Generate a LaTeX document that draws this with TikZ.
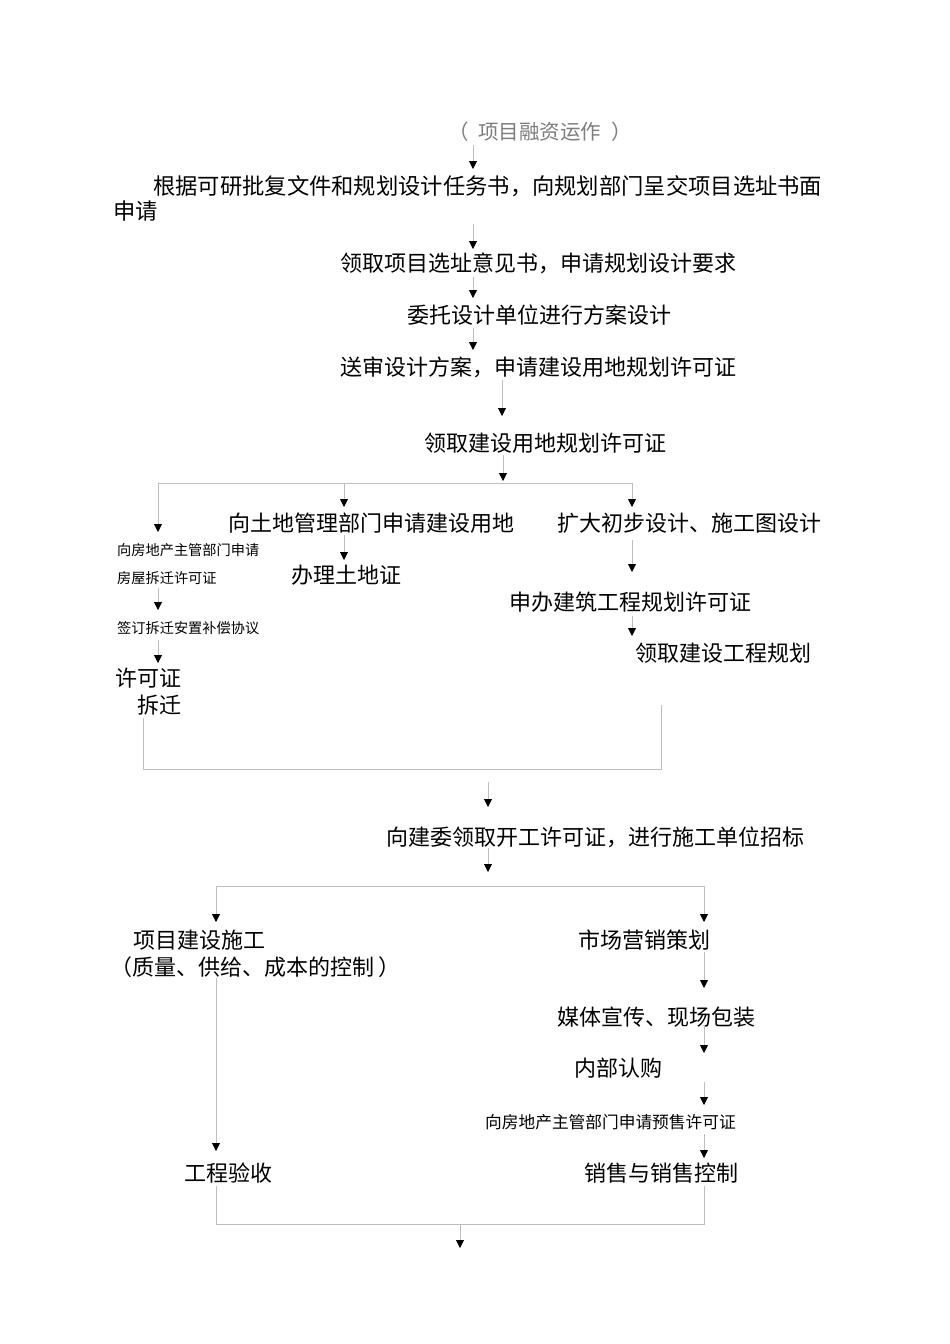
\documentclass[tikz,border=0pt]{standalone}
\usepackage{fontspec}
\newfontfamily\cjk{Noto Sans CJK SC}
\usetikzlibrary{arrows.meta}
\definecolor{linegray}{RGB}{190,190,190}
\definecolor{textgray}{RGB}{125,125,125}

\begin{document}
\begin{tikzpicture}[x=1pt,y=-1pt,
txt/.style={inner sep=0pt, anchor=west, font=\cjk\fontsize{22}{27}\selectfont},
small/.style={inner sep=0pt, anchor=west, font=\cjk\fontsize{14.2}{28}\selectfont},
link/.style={draw=linegray, line width=0.8pt},
flow/.style={link, -{Triangle[width=8pt,length=8pt,color=black]}}]

\useasboundingbox (0,0) rectangle (950,1344);

%% financing and planning steps
\node[txt, anchor=center, text=textgray, font=\cjk\fontsize{20.5}{24}\selectfont] (fin) at (540,132)
      {（\hspace{10pt}项目融资运作\hspace{10pt}）};
\node[txt, align=left, font=\cjk\fontsize{22.3}{25}\selectfont] (apply) at (113,198.5)
      {\hspace*{40pt}根据可研批复文件和规划设计任务书，向规划部门呈交项目选址书面\\申请};
\node[txt] (opinion) at (340,263) {领取项目选址意见书，申请规划设计要求};
\node[txt] (entrust) at (407,315) {委托设计单位进行方案设计};
\node[txt] (submit) at (340,367) {送审设计方案，申请建设用地规划许可证};
\node[txt] (landplan) at (424,443) {领取建设用地规划许可证};

%% three branches
\node[small, align=left] (demo) at (117,564) {向房地产主管部门申请\\房屋拆迁许可证};
\node[small] (agree) at (117,628) {签订拆迁安置补偿协议};
\node[txt, anchor=east, align=right] (demolish) at (182,691.5) {许可证\\拆迁};
\node[txt] (landapp) at (228,523) {向土地管理部门申请建设用地};
\node[txt] (landcert) at (291,575) {办理土地证};
\node[txt] (enlarge) at (557,523) {扩大初步设计、施工图设计};
\node[txt] (buildplan) at (509,602) {申办建筑工程规划许可证};
\node[txt] (takeplan) at (635,653) {领取建设工程规划};

%% construction and sales
\node[txt] (permit) at (386,837) {向建委领取开工许可证，进行施工单位招标};
\node[txt, align=left] (build) at (110,953.5)
      {\hspace*{23pt}项目建设施工\\（质量、供给、成本的控制\hspace{4pt}）};
\node[txt] (accept) at (184,1173) {工程验收};
\node[txt] (market) at (578,940) {市场营销策划};
\node[txt] (media) at (557,1017) {媒体宣传、现场包装};
\node[txt] (inner) at (574,1068) {内部认购};
\node[small, font=\cjk\fontsize{16.7}{20}\selectfont] (presale) at (485,1122) {向房地产主管部门申请预售许可证};
\node[txt] (sales) at (584,1173) {销售与销售控制};

%% arrow ends
\foreach \n/\x/\ya/\yb in {1/473/145/169, 2/473/224/249, 3/473/277/298, 4/473/328/350,
      5/502/380/416, 6/503/455/481, 7/158/483/532, 8/344/483/507, 9/632/483/507,
      10/344/535/560, 11/158/588/610, 12/158/640/663, 13/632/540/572, 14/632/616/636,
      15/488/782/807, 16/488/848/872, 17/216/886/922, 18/704/886/922, 19/704/952/988,
      20/704/1025/1053, 21/704/1082/1105, 22/704/1134/1158, 23/216/978/1151, 24/460/1225/1248}
{
      \coordinate (a\n) at (\x,\ya);
      \coordinate (b\n) at (\x,\yb);
}

%% join points
\coordinate (j1-l) at (143,718);
\coordinate (j1-r) at (661,705);
\coordinate (j2-l) at (216,1186);
\coordinate (j2-r) at (704,1186);

%% split and join lines
\draw[link] (a7) -- (a9);
\draw[link] (a17) -- (a18);
\draw[link] (j1-l) -- (j1-l |- 0,769) -- (j1-r |- 0,769) -- (j1-r);
\draw[link] (j2-l) -- (j2-l |- 0,1224) -- (j2-r |- 0,1224) -- (j2-r);

%% place all arrows
\foreach \n in {1,...,24}
      \draw[flow] (a\n) -- (b\n);

\end{tikzpicture}
\end{document}
